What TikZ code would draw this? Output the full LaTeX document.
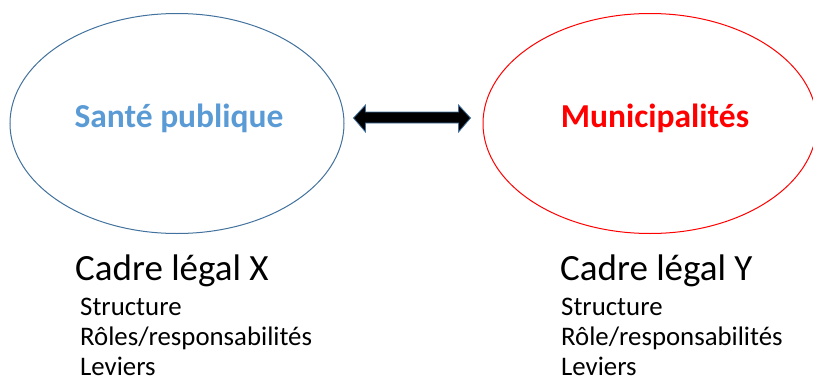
\documentclass[tikz,border=0pt]{standalone}
\usepackage{fontspec}
\setmainfont{Carlito}
\usetikzlibrary{shapes.geometric,calc}
\definecolor{bordblue}{RGB}{65,113,156}
\definecolor{textblue}{RGB}{91,155,213}
\tikzset{
  zone/.style={ellipse,draw,line width=1pt,inner sep=0pt,minimum width=334pt,minimum height=220pt},
  title/.style={font=\fontsize{33.5}{33.5}\selectfont\bfseries},
  cadre/.style={anchor=base west,inner sep=0pt,font=\fontsize{37}{37}\selectfont},
  item/.style={anchor=base west,inner sep=0pt,font=\fontsize{26.8}{26.8}\selectfont},
  biarrow/.style={draw=bordblue,fill=black,line width=0.8pt,line join=miter}
}
\begin{document}
\begin{tikzpicture}[x=1pt,y=-1pt]
    \useasboundingbox (0,0) rectangle (813,380);
    \begin{scope}
    \clip (0,0) rectangle (813,380);
    \node[zone,draw=bordblue] (sante) at (177,123.5) {};
    \node[zone,draw=red] (muni) at (650,123.5) {};
    \end{scope}
    \node[title,text=textblue] (santelbl) at (179,118) {Santé publique};
    \node[title,text=red] (munilbl) at (655,118) {Municipalités};
    % double fleche
    \coordinate (la) at ($(sante.east)+(9,-5.5)$);
    \coordinate (ra) at ($(muni.west)+(-12,-5.5)$);
    \draw[biarrow] (la) -- ++(12,-13) -- ++(0,7) -- ($(ra)+(-12,-6)$) -- ++(0,-7) -- (ra)
      -- ++(-12,14) -- ++(0,-9) -- ($(la)+(12,5)$) -- ++(0,9) -- cycle;
    % cadres
    \node[cadre] (cadrex) at (75,280) {Cadre légal X};
    \node[item] (structx) at (80,315) {Structure};
    \node[item] (rolex) at (80,345) {Rôles/responsabilités};
    \node[item] (levx) at (80,375) {Leviers};
    \node[cadre] (cadrey) at (560,280) {Cadre légal Y};
    \node[item] (structy) at (561,315) {Structure};
    \node[item] (roley) at (561,345) {Rôle/responsabilités};
    \node[item] (levy) at (561,375) {Leviers};
\end{tikzpicture}
\end{document}
